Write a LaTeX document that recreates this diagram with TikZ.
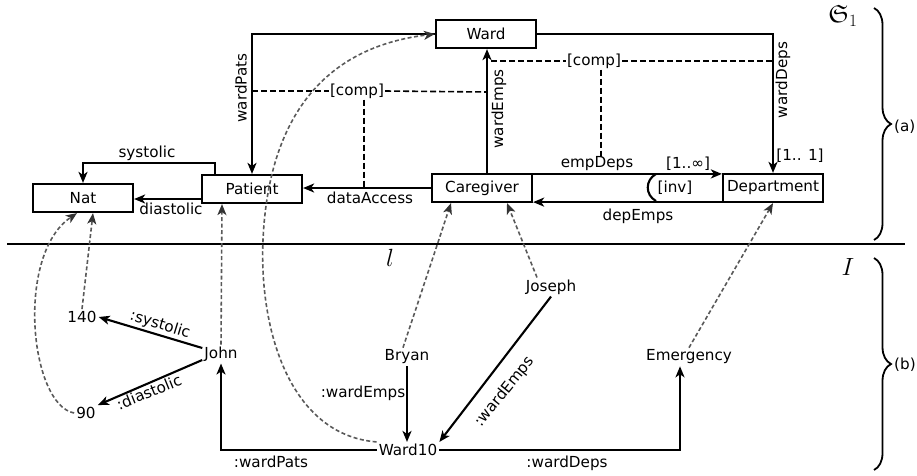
\documentclass[tikz,border=0pt]{standalone}
\usepackage{amssymb}
\usepackage{fontspec}
\setmainfont{DejaVu Sans}
\usetikzlibrary{arrows.meta,decorations.pathreplacing,calc}
\begin{document}
\begin{tikzpicture}[x=1pt,y=-1pt,
 font=\fontsize{15.2}{18}\selectfont,
 box/.style={draw,line width=2.2pt,minimum width=100pt,minimum height=28pt,inner sep=0pt},
 inst/.style={inner sep=2pt},
 rel/.style={line width=2.1pt,-{Stealth[length=11pt,width=9pt,inset=3pt]}},
 plainline/.style={line width=2.1pt},
 typ/.style={line width=1.6pt,gray!70!black,dash pattern=on 4pt off 2.5pt,-{Stealth[length=11pt,width=9pt,inset=3pt,black!80]}},
 compline/.style={line width=1.6pt,dash pattern=on 6pt off 3pt},
 lab/.style={inner sep=1pt},
 brc/.style={decorate,decoration={brace,amplitude=17pt},line width=1.8pt},
 bigmath/.style={font=\fontsize{25}{30}\selectfont}
]
\useasboundingbox (0,0) rectangle (917,475);

% schema boxes
\node[box] (Ward) at (486,34) {Ward};
\node[box] (Nat) at (83,198) {Nat};
\node[box] (Patient) at (252,189) {Patient};
\node[box] (Care) at (482,188) {Caregiver};
\node[box] (Dept) at (773,188) {Department};

% schema relations
\draw[rel] (Ward.west) -| (Patient.north);
\draw[rel] (Ward.east) -| (Dept.north);
\draw[rel] ([xshift=5pt]Care.north) -- ([xshift=5pt]Care.north |- Ward.south);
\draw[rel] (Care.west) -- (Care.west -| Patient.east);
\draw[rel] ([yshift=-10pt]Patient.west) -- ([yshift=-10pt]Patient.west -| Nat.east);
\draw[rel] ([xshift=-37pt]Patient.north) -- ++(0,-11) -| (Nat.north);
\draw[rel] ([yshift=-1pt]Care.north east) -- ([yshift=-1pt]Care.north east -| Dept.west);
\draw[rel] ([yshift=1pt]Dept.south west) -- ([yshift=1pt]Dept.south west -| Care.east);
\coordinate (invT) at (656,174);
\coordinate (invB) at (656,201);
\draw[plainline] (invT) .. controls (645,180) and (645,195) .. (invB);

% labels of schema relations
\node[lab,rotate=90] (lwp) at (241,88) {wardPats};
\node[lab,rotate=90] (lwd) at (783,80) {wardDeps};
\node[lab,rotate=90] (lwe) at (499,109) {wardEmps};
\node[lab] (l11) at (800,156) {[1.. 1]};
\node[lab] (lsys) at (147,153) {systolic};
\node[lab] (ldia) at (171,209) {diastolic};
\node[lab] (lda) at (370,198) {dataAccess};
\node[lab] (led) at (597,164) {empDeps};
\node[lab] (l1inf) at (688,164) {[1..∞]};
\node[lab] (lde) at (638,216) {depEmps};
\node[lab] (linv) at (675,188) {[inv]};

% [comp] constraints
\node[lab] (comp1) at (357,91) {[comp]};
\node[lab] (comp2) at (594,61) {[comp]};
\coordinate (c1l) at (252,91);
\coordinate (c1r) at (487,92);
\coordinate (c2l) at (491,61);
\coordinate (c2r) at (773,61);
\coordinate (c2d) at (601,157);
\draw[compline] (c1l) -- (comp1.west);
\draw[compline] (comp1.east) -- (c1r);
\draw[compline] ([xshift=7pt]comp1.south) -- ([xshift=7pt]comp1.south |- Care.west);
\draw[compline] (c2l) -- (comp2.west);
\draw[compline] (comp2.east) -- (c2r);
\draw[compline] ([xshift=7pt]comp2.south) -- (c2d);

% separator
\coordinate (sepL) at (7,244);
\coordinate (sepR) at (905,244);
\draw[plainline] (sepL) -- (sepR);
\node[bigmath] (ell) at (390,258) {$l$};
\node[bigmath] (Iname) at (848,267) {$I$};
\node[bigmath] (Sname) at (843,16) {$\mathfrak{S}_1$};

% braces
\coordinate (bat) at (874,8);
\coordinate (bab) at (874,240);
\coordinate (bbt) at (874,258);
\coordinate (bbb) at (874,470);
\draw[brc] (bat) -- (bab);
\draw[brc] (bbt) -- (bbb);
\node[lab,anchor=west] (la) at (893,127) {(a)};
\node[lab,anchor=west] (lb) at (893,365) {(b)};

% instances
\node[inst] (n140) at (82,317) {140};
\node[inst] (n90) at (86,413) {90};
\node[inst] (John) at (221,354) {John};
\node[inst] (Bryan) at (407,357) {Bryan};
\node[inst] (W10) at (408,450) {Ward10};
\node[inst] (Joseph) at (551,287) {Joseph};
\node[inst] (Emerg) at (689,357) {Emergency};

% instance relations
\draw[rel] ([yshift=6pt]John.west) -- (n140.east);
\draw[rel] ([yshift=-6pt]John.west) -- (n90.north east);
\draw[rel] (W10.west) -| (John.south);
\draw[rel] (Bryan.south) -- (Bryan.south |- W10.north);
\draw[rel] (Joseph.south) -- (W10.north east);
\draw[rel] (W10.east) -| ([xshift=-9pt]Emerg.south);

\node[lab,rotate=-17] (lisys) at (160,325) {:systolic};
\node[lab,rotate=22] (lidia) at (149,392) {:diastolic};
\node[lab] (liwp) at (271,462) {:wardPats};
\node[lab] (liwe1) at (363,393) {:wardEmps};
\node[lab,rotate=51] (liwe2) at (505,392) {:wardEmps};
\node[lab] (liwd) at (567,463) {:wardDeps};

% typing (instance-of) links
\draw[typ] (n140.north) -- ([xshift=10pt]Nat.south);
\draw[typ] (n90.west) .. controls (30,405) and (15,255) .. ([xshift=-6pt]Nat.south);
\draw[typ] (John.north) -- ([xshift=-30pt]Patient.south);
\draw[typ] (W10.north west) .. controls (290,435) and (259,330) .. (263,240)
  .. controls (267,150) and (300,50) .. (Ward.west);
\draw[typ] ([xshift=-4pt]Bryan.north) -- ([xshift=-31pt]Care.south);
\draw[typ] ([xshift=-14pt]Joseph.north) -- ([xshift=25pt]Care.south);
\draw[typ] (Emerg.north) -- (Dept.south);
\end{tikzpicture}
\end{document}
